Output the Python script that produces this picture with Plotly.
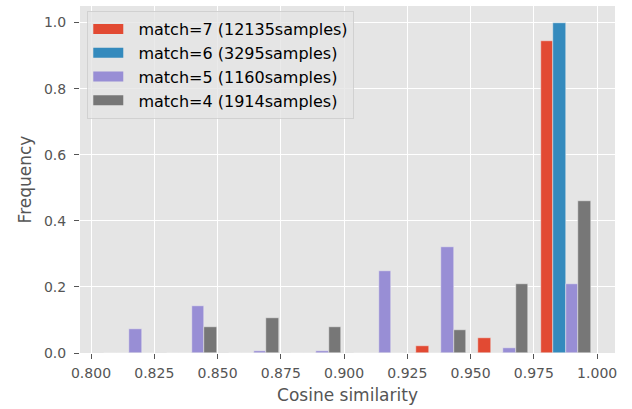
import numpy as np
import plotly.graph_objects as go

# Histogram bins spanning the observed similarity range
bin_lo = 0.8028
bin_hi = 0.9999
n_bins = 8

# Normalised frequencies per bin for each match count
series_names = [
    "match=7 (12135samples)",
    "match=6 (3295samples)",
    "match=5 (1160samples)",
    "match=4 (1914samples)",
]
match7 = [0.0, 0.0, 0.0, 0.0, 0.0, 0.020, 0.045, 0.945]
match6 = [0.0, 0.0, 0.0, 0.0, 0.0, 0.0, 0.0, 1.000]
match5 = [0.072, 0.141, 0.006, 0.006, 0.248, 0.320, 0.015, 0.209]
match4 = [0.0, 0.079, 0.107, 0.079, 0.0, 0.069, 0.209, 0.461]

x_ticks = [0.800, 0.825, 0.850, 0.875, 0.900, 0.925, 0.950, 0.975, 1.000]
y_ticks = [0.0, 0.2, 0.4, 0.6, 0.8, 1.0]

colors = ["#E24A33", "#348ABD", "#988ED5", "#777777"]
values = [match7, match6, match5, match4]

edges = np.linspace(bin_lo, bin_hi, n_bins + 1)
bw = edges[1] - edges[0]
left = edges[:-1]
n_series = len(values)
bar_w = 0.8 * bw / n_series

fig = go.Figure()
for k, (name, vals, col) in enumerate(zip(series_names, values, colors)):
    fig.add_trace(go.Bar(
        x=left, y=vals, base=0,
        offset=0.1 * bw + k * bar_w, width=bar_w,
        marker=dict(color=col, line=dict(color="#EEEEEE", width=0.5)),
        showlegend=False, name=name,
    ))
# legend swatches: wide thick line entries resemble rectangular patches
for k, (name, col) in enumerate(zip(series_names, colors)):
    fig.add_trace(go.Scatter(
        x=[None], y=[None], mode="lines", name="  " + name,
        line=dict(color=col, width=11), legendgroup=str(k),
    ))

x_lo = left[0] + 0.1 * bw
x_hi = left[-1] + 0.9 * bw
pad = 0.05 * (x_hi - x_lo)

axis_common = dict(
    showgrid=True, gridcolor="white", gridwidth=1,
    zeroline=False, showline=False,
    ticks="outside", ticklen=5, tickwidth=1, tickcolor="#555555",
    tickfont=dict(family="DejaVu Sans", size=14, color="#555555"),
)

fig.update_layout(
    width=632, height=409,
    margin=dict(l=80, r=17, t=6, b=56),
    paper_bgcolor="white", plot_bgcolor="#E5E5E5",
    barmode="overlay", bargap=0,
    font=dict(family="DejaVu Sans", size=14, color="#000000"),
    xaxis=dict(
        range=[x_lo - pad, x_hi + pad],
        tickvals=x_ticks, ticktext=[f"{v:.3f}" for v in x_ticks],
        ticklabelstandoff=2,
        title=dict(text="Cosine similarity", standoff=9,
                   font=dict(family="DejaVu Sans", size=17, color="#555555")),
        **axis_common,
    ),
    yaxis=dict(
        range=[0, 1.05],
        tickvals=y_ticks, ticktext=[f"{v:.1f}" for v in y_ticks],
        ticklabelstandoff=5,
        title=dict(text="Frequency", standoff=7,
                   font=dict(family="DejaVu Sans", size=17, color="#555555")),
        **axis_common,
    ),
    legend=dict(
        x=0.0136, y=0.9856, xanchor="left", yanchor="top",
        bgcolor="rgba(229,229,229,0.8)", bordercolor="rgba(204,204,204,0.8)",
        borderwidth=1, tracegroupgap=0,
        font=dict(family="DejaVu Sans", size=16, color="#000000"),
    ),
)

fig.write_html("out.html")
